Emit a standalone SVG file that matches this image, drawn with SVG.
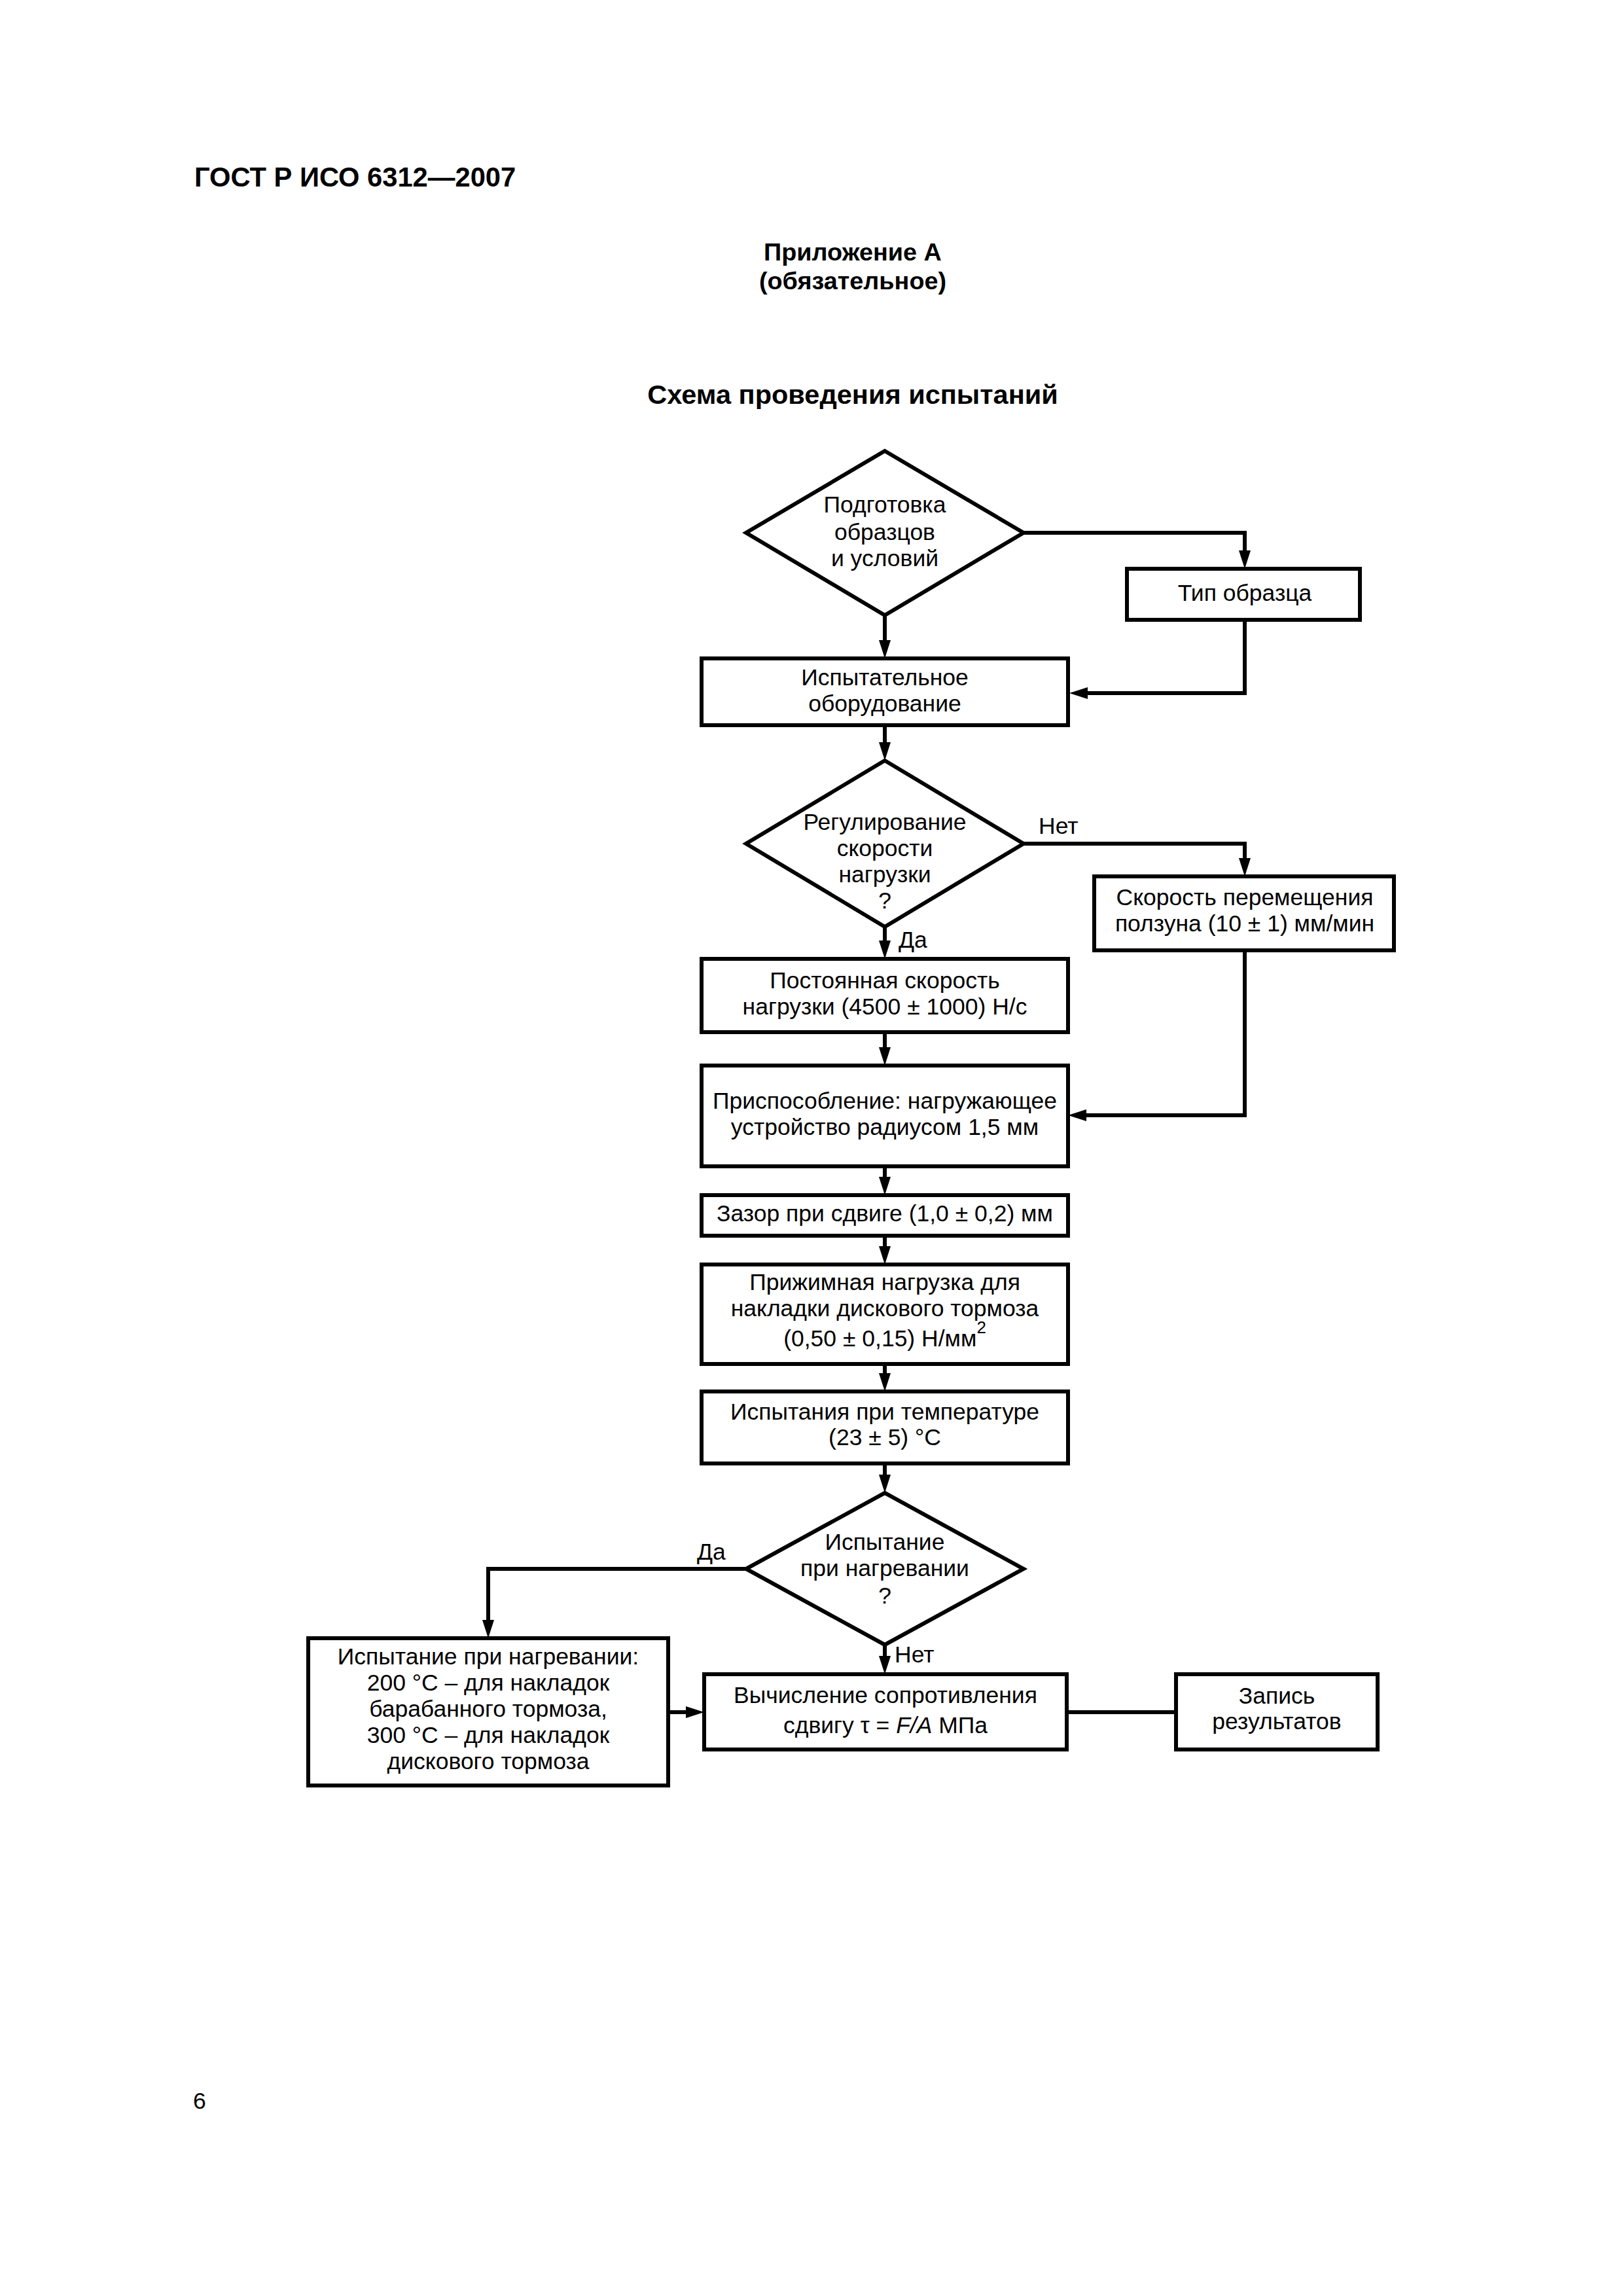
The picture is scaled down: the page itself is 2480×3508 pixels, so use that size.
<svg xmlns="http://www.w3.org/2000/svg" width="2480" height="3508" viewBox="0 0 2480 3508">
<style>
.bg{fill:#fff}
.box{fill:#fff;stroke:#000;stroke-width:6}
.ln{fill:none;stroke:#000;stroke-width:6}
.t{font-family:"Liberation Sans",Arial,sans-serif;font-size:35.5px;fill:#000;text-anchor:middle}
.l{font-family:"Liberation Sans",Arial,sans-serif;font-size:35.5px;fill:#000}
.hb{font-family:"Liberation Sans",Arial,sans-serif;font-weight:bold;fill:#000}
</style>
<defs>
<marker id="ah" markerUnits="userSpaceOnUse" markerWidth="30" markerHeight="20" refX="0" refY="9" orient="auto" overflow="visible">
<path d="M0,0 L28,9 L0,18 Z" fill="#000"/>
</marker>
</defs>
<rect class="bg" x="0" y="0" width="2480" height="3508"/>

<g id="page-header">
<text class="hb" x="297" y="285" font-size="41.7">ГОСТ Р ИСО 6312—2007</text>
<text class="hb" x="1303" y="398" font-size="37.8" text-anchor="middle">Приложение А</text>
<text class="hb" x="1303" y="442" font-size="37.8" text-anchor="middle">(обязательное)</text>
<text class="hb" x="1303" y="617" font-size="41.5" text-anchor="middle">Схема проведения испытаний</text>
<text class="l" x="295" y="3222" font-size="40">6</text>
</g>

<g id="connectors">
<path class="ln" d="M1352,940 V978" marker-end="url(#ah)"/>
<path class="ln" d="M1564,814 H1902 V841" marker-end="url(#ah)"/>
<path class="ln" d="M1902,947 V1059 H1662" marker-end="url(#ah)"/>
<path class="ln" d="M1352,1108 V1134" marker-end="url(#ah)"/>
<path class="ln" d="M1564,1289 H1902 V1311" marker-end="url(#ah)"/>
<path class="ln" d="M1352,1416 V1437" marker-end="url(#ah)"/>
<path class="ln" d="M1902,1452 V1704 H1660" marker-end="url(#ah)"/>
<path class="ln" d="M1352,1577 V1600" marker-end="url(#ah)"/>
<path class="ln" d="M1352,1782 V1798" marker-end="url(#ah)"/>
<path class="ln" d="M1352,1888 V1904" marker-end="url(#ah)"/>
<path class="ln" d="M1352,2084 V2098" marker-end="url(#ah)"/>
<path class="ln" d="M1352,2236 V2253" marker-end="url(#ah)"/>
<path class="ln" d="M1143,2397 H746 V2475" marker-end="url(#ah)"/>
<path class="ln" d="M1352,2513 V2530" marker-end="url(#ah)"/>
<path class="ln" d="M1021,2616 H1048" marker-end="url(#ah)"/>
<path class="ln" d="M1630,2616 H1797"/>
<text class="l" x="1587" y="1274">Нет</text>
<text class="l" x="1373" y="1448">Да</text>
<text class="l" x="1065" y="2383">Да</text>
<text class="l" x="1367" y="2540">Нет</text>
</g>

<g id="n-podgotovka">
<polygon class="box" points="1352,689 1564,814 1352,940 1140,814"/>
<text class="t" x="1352" y="783">Подготовка</text>
<text class="t" x="1352" y="825">образцов</text>
<text class="t" x="1352" y="865">и условий</text>
</g>

<g id="n-tip">
<rect class="box" x="1722" y="869" width="356" height="78"/>
<text class="t" x="1902" y="918">Тип образца</text>
</g>

<g id="n-oborud">
<rect class="box" x="1072" y="1006" width="560" height="102"/>
<text class="t" x="1352" y="1047">Испытательное</text>
<text class="t" x="1352" y="1087">оборудование</text>
</g>

<g id="n-regul">
<polygon class="box" points="1352,1162 1564,1289 1352,1416 1140,1289"/>
<text class="t" x="1352" y="1268">Регулирование</text>
<text class="t" x="1352" y="1308">скорости</text>
<text class="t" x="1352" y="1348">нагрузки</text>
<text class="t" x="1352" y="1388">?</text>
</g>

<g id="n-skorost">
<rect class="box" x="1672" y="1339" width="458" height="113"/>
<text class="t" x="1902" y="1383">Скорость перемещения</text>
<text class="t" x="1902" y="1423">ползуна (10 ± 1) мм/мин</text>
</g>

<g id="n-postoyan">
<rect class="box" x="1072" y="1465" width="560" height="112"/>
<text class="t" x="1352" y="1510">Постоянная скорость</text>
<text class="t" x="1352" y="1550">нагрузки (4500 ± 1000) Н/с</text>
</g>

<g id="n-prisp">
<rect class="box" x="1072" y="1628" width="560" height="154"/>
<text class="t" x="1352" y="1694">Приспособление: нагружающее</text>
<text class="t" x="1352" y="1734">устройство радиусом 1,5 мм</text>
</g>

<g id="n-zazor">
<rect class="box" x="1072" y="1826" width="560" height="62"/>
<text class="t" x="1352" y="1866">Зазор при сдвиге (1,0 ± 0,2) мм</text>
</g>

<g id="n-prizhim">
<rect class="box" x="1072" y="1932" width="560" height="152"/>
<text class="t" x="1352" y="1971">Прижимная нагрузка для</text>
<text class="t" x="1352" y="2011">накладки дискового тормоза</text>
<text class="t" x="1352" y="2057">(0,50 ± 0,15) Н/мм<tspan font-size="26" dy="-20">2</tspan></text>
</g>

<g id="n-temp">
<rect class="box" x="1072" y="2126" width="560" height="110"/>
<text class="t" x="1352" y="2169">Испытания при температуре</text>
<text class="t" x="1352" y="2208">(23 ± 5) °С</text>
</g>

<g id="n-nagrev-q">
<polygon class="box" points="1352,2281 1564,2397 1352,2513 1140,2397"/>
<text class="t" x="1352" y="2368">Испытание</text>
<text class="t" x="1352" y="2408">при нагревании</text>
<text class="t" x="1352" y="2450">?</text>
</g>

<g id="n-nagrev">
<rect class="box" x="471" y="2503" width="550" height="225"/>
<text class="t" x="746" y="2543">Испытание при нагревании:</text>
<text class="t" x="746" y="2583">200 °С – для накладок</text>
<text class="t" x="746" y="2623">барабанного тормоза,</text>
<text class="t" x="746" y="2663">300 °С – для накладок</text>
<text class="t" x="746" y="2703">дискового тормоза</text>
</g>

<g id="n-vychisl">
<rect class="box" x="1076" y="2558" width="554" height="115"/>
<text class="t" x="1353" y="2602">Вычисление сопротивления</text>
<text class="t" x="1353" y="2648">сдвигу τ = <tspan font-style="italic">F/A</tspan> МПа</text>
</g>

<g id="n-zapis">
<rect class="box" x="1797" y="2558" width="308" height="115"/>
<text class="t" x="1951" y="2603">Запись</text>
<text class="t" x="1951" y="2642">результатов</text>
</g>
</svg>
